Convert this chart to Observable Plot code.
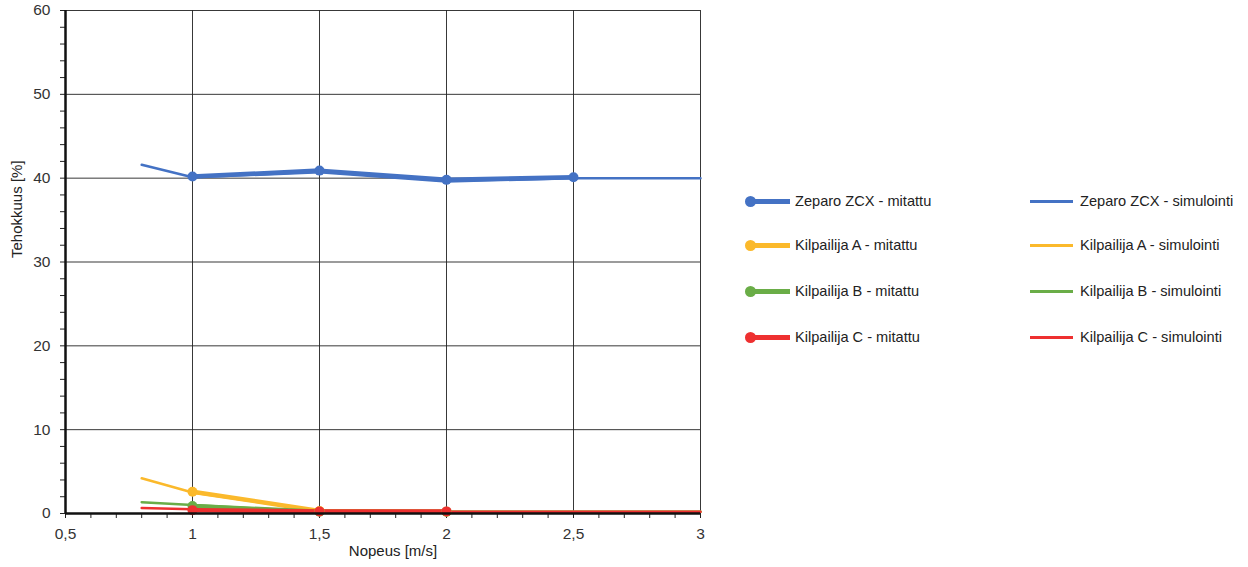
<!DOCTYPE html>
<html>
<head>
<meta charset="utf-8">
<script src="https://cdn.jsdelivr.net/npm/d3@7"></script>
<script src="https://cdn.jsdelivr.net/npm/@observablehq/plot@0.6"></script>
<style>
  html, body { margin: 0; padding: 0; background: #fff; }
  #wrap { position: relative; width: 1248px; height: 567px; font-family: "Liberation Sans", Arial, sans-serif; }
  #legend { position: absolute; left: 745px; top: 190px; font-size: 14.6px; color: #222; }
  .row { position: absolute; white-space: nowrap; height: 20px; line-height: 20px; }
  .sw { position: absolute; top: 8px; }
  .dot { position: absolute; top: 5px; width: 11px; height: 11px; border-radius: 50%; }
</style>
</head>
<body>
<div id="wrap"><div id="chart"></div><div id="legend"></div></div>
<script>
// ---- data ----
const seriesNames = ["Zeparo ZCX", "Kilpailija A", "Kilpailija B", "Kilpailija C"];
const seriesColors = ["#4472c4", "#fbb92b", "#6aad47", "#ee3030"];

const measuredSpeeds = [1, 1.5, 2, 2.5];
const zeparoMeasured = [40.2, 40.9, 39.8, 40.1];
const aMeasured = [2.6, 0.3, 0.2, null];
const bMeasured = [0.9, 0.2, 0.2, null];
const cMeasured = [0.4, 0.25, 0.25, null];

const simSpeeds = [0.8, 1, 1.5, 2, 2.5, 3];
const zeparoSim = [41.6, 40.1, 40.7, 39.6, 40.0, 40.0];
const aSim = [4.2, 2.5, 0.3, 0.2, 0.2, 0.2];
const bSim = [1.35, 1.0, 0.2, 0.2, 0.2, 0.2];
const cSim = [0.65, 0.5, 0.2, 0.2, 0.2, 0.2];

const yMajor = [0, 10, 20, 30, 40, 50, 60];
const xMajor = [0.5, 1, 1.5, 2, 2.5, 3];

// ---- build tables ----
const measuredArrays = [zeparoMeasured, aMeasured, bMeasured, cMeasured];
const simArrays = [zeparoSim, aSim, bSim, cSim];
const measured = [], sim = [];
seriesNames.forEach((s, i) => {
  measuredSpeeds.forEach((x, j) => { const v = measuredArrays[i][j]; if (v != null) measured.push({series: s, x, y: v}); });
  simSpeeds.forEach((x, j) => sim.push({series: s, x, y: simArrays[i][j]}));
});

const fmt = d => String(d).replace(".", ",");
const xMinor = d3.range(5, 31).map(d => d / 10);
const yMinor = d3.range(0, 61, 2);

const chart = Plot.plot({
  width: 1248,
  height: 567,
  marginLeft: 65,
  marginRight: 548,
  marginTop: 10,
  marginBottom: 54,
  style: {fontFamily: "'Liberation Sans', Arial, sans-serif", fontSize: "15.5px", color: "#333", background: "#fff"},
  x: {domain: [0.5, 3], axis: null},
  y: {domain: [0, 60], axis: null},
  color: {domain: seriesNames, range: seriesColors},
  marks: [
    Plot.ruleY(yMajor.filter(d => d > 0), {stroke: "#222", strokeWidth: 1, strokeOpacity: 0.9}),
    Plot.ruleX(xMajor.filter(d => d > 0.5), {stroke: "#222", strokeWidth: 1, strokeOpacity: 0.9}),
    Plot.axisX({ticks: xMinor, tickFormat: d => xMajor.some(m => Math.abs(m - d) < 1e-9) ? fmt(d) : "", tickSize: 5, tickPadding: 9, stroke: "#222", fill: "#333", label: null, fontSize: 15.5}),
    Plot.axisY({ticks: yMinor, tickFormat: d => d % 10 === 0 ? d : "", tickSize: 5, tickPadding: 10, stroke: "#222", fill: "#333", label: null, fontSize: 15.5}),
    Plot.line(sim, {x: "x", y: "y", z: "series", stroke: "series", strokeWidth: 2.5}),
    Plot.line(measured, {x: "x", y: "y", z: "series", stroke: "series", strokeWidth: 4.5}),
    Plot.dot(measured, {x: "x", y: "y", fill: "series", r: 5}),
    Plot.ruleX([0.5], {stroke: "#111", strokeWidth: 2.5}),
    Plot.ruleY([0], {stroke: "#111", strokeWidth: 2.5}),
    Plot.text(["Tehokkuus [%]"], {frameAnchor: "left", rotate: -90, dx: -48, dy: -4, fill: "#222", fontSize: 15}),
    Plot.text(["Nopeus [m/s]"], {frameAnchor: "bottom", dy: 42, dx: 10, fill: "#222", fontSize: 15})
  ]
});
document.getElementById("chart").appendChild(chart);

// ---- legend ----
const legend = document.getElementById("legend");
const rowTops = [1, 45, 91, 137];
seriesNames.forEach((s, i) => {
  const r1 = document.createElement("div");
  r1.className = "row";
  r1.style.left = "0px"; r1.style.top = rowTops[i] + "px";
  r1.innerHTML = `<span class="sw" style="left:2px;width:43px;height:4.5px;background:${seriesColors[i]}"></span>` +
    `<span class="dot" style="left:0px;background:${seriesColors[i]}"></span>` +
    `<span style="position:absolute;left:50px">${s} - mitattu</span>`;
  legend.appendChild(r1);
  const r2 = document.createElement("div");
  r2.className = "row";
  r2.style.left = "285px"; r2.style.top = rowTops[i] + "px";
  r2.innerHTML = `<span class="sw" style="left:0px;width:43px;height:2.5px;top:9px;background:${seriesColors[i]}"></span>` +
    `<span style="position:absolute;left:50px">${s} - simulointi</span>`;
  legend.appendChild(r2);
});
</script>
</body>
</html>
